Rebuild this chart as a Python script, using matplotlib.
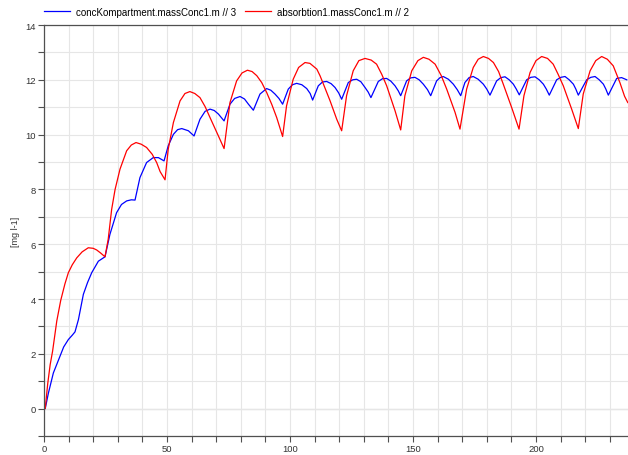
import matplotlib
matplotlib.use("Agg")
import matplotlib.pyplot as plt
from matplotlib.ticker import MultipleLocator
from matplotlib.lines import Line2D

plt.rcParams['font.family'] = ['Liberation Sans', 'DejaVu Sans']

# blue: concKompartment.massConc1.m // 3
t_blue = [0, 0.5, 1.8, 3.8, 6.5, 8, 9.9, 11.5, 12.6, 14, 16, 17.7, 19.4, 22.1, 24.8,
          26.8, 29.5, 31.5, 33.6, 35.5, 37, 39, 41.7, 44.4, 46.5, 48.8,
          50.5, 52.6, 54.3, 56, 58.7, 61, 63.4, 65.5, 67.5, 69.2, 70.9, 73.2,
          75.6, 77.5, 79.7, 81.5, 83.1, 85.1, 87.8, 90.5, 92.2, 93.9, 95.5, 97,
          99.3, 101, 102.7, 104.8, 106.8, 108.2, 109.2, 111.5, 113.2, 114.9, 116.7, 118.3, 119.8, 121,
          123.7, 125.5, 127.1, 128.8, 130.5, 131.8, 132.9, 135.9, 137.6, 139.3, 141, 142.7, 144, 145,
          147.4, 149, 150.8, 152.5, 154.2, 155.9, 157.2, 159.6, 161, 162.3, 164.4, 166.4, 168, 169.4,
          171.1, 172.8, 174.5, 176.5, 178.6, 180, 181.3, 184, 185.7, 187.4, 189.1, 190.8, 192, 193.2,
          196.2, 197.9, 199.6, 201.3, 203, 204.2, 205.4, 208.4, 210.1, 211.8, 213.5, 215.2, 216.2, 217.2,
          220.6, 222.3, 224, 225.7, 227.4, 228.4, 229.4, 232.8, 234.8, 236.9]
c_blue = [0, 0, 0.57, 1.3, 1.91, 2.25, 2.52, 2.68, 2.8, 3.25, 4.17, 4.6, 4.96, 5.38, 5.54,
          6.36, 7.15, 7.45, 7.58, 7.62, 7.61, 8.43, 8.98, 9.16, 9.16, 9.04,
          9.59, 10.01, 10.18, 10.22, 10.14, 9.95, 10.56, 10.85, 10.93, 10.88, 10.75, 10.5,
          11.11, 11.32, 11.39, 11.3, 11.11, 10.89, 11.48, 11.68, 11.62, 11.48, 11.32, 11.11,
          11.66, 11.82, 11.87, 11.82, 11.68, 11.5, 11.26, 11.78, 11.92, 11.94, 11.86, 11.72, 11.52, 11.29,
          11.9, 12.0, 12.02, 11.93, 11.72, 11.55, 11.35, 11.94, 12.04, 12.05, 11.95, 11.78, 11.6, 11.42,
          11.96, 12.07, 12.09, 12.0, 11.84, 11.64, 11.42, 11.96, 12.08, 12.12, 12.02, 11.84, 11.64, 11.42,
          11.9, 12.08, 12.12, 12.02, 11.84, 11.66, 11.44, 11.96, 12.08, 12.11, 12.0, 11.84, 11.66, 11.45,
          12.0, 12.09, 12.11, 12.0, 11.84, 11.66, 11.44, 12.0, 12.09, 12.12, 12.0, 11.84, 11.66, 11.44,
          12.0, 12.09, 12.12, 12.0, 11.84, 11.66, 11.44, 12.05, 12.08, 12.0]

# red: absorbtion1.massConc1.m // 2
t_red = [0, 0.5, 1.5, 2.5, 3.5, 5.2, 6.8, 8.5, 9.9, 11.5, 13.3, 15.5, 18, 20, 21.4, 23, 24.8,
         26.1, 27.5, 28.9, 30.9, 33.6, 35.5, 37.4, 39.5, 41.7, 44, 45.8, 47.2, 49.2,
         50.5, 52.6, 55.3, 57.3, 59.3, 61.3, 63.4, 65.5, 67.5, 70.9, 73.2,
         75.6, 78.3, 80.5, 82.7, 84.6, 86.5, 88.5, 90.5, 92.6, 94.6, 97,
         98.6, 101.3, 103.5, 106.1, 108.1, 110.9, 112.2, 114, 116.3, 119, 121,
         123, 125.7, 128, 130.5, 133, 135.2, 137.3, 139.3, 142.7, 145,
         146.7, 149.5, 152, 154.2, 156.5, 159, 161.5, 163.7, 167.1, 169.1,
         171.8, 174.5, 176.5, 178.6, 180.7, 182.7, 184.8, 186.7, 190.1, 193.1,
         195.1, 197.6, 200, 202.3, 204.7, 207, 209, 211.1, 214.5, 217.2,
         219.2, 222, 224.3, 226.7, 229, 231.4, 234.1, 236, 237.3]
c_red = [0, 0, 0.9, 1.6, 2.1, 3.2, 3.95, 4.55, 4.96, 5.25, 5.5, 5.72, 5.87, 5.85, 5.79, 5.68, 5.54,
         6.18, 7.27, 8.0, 8.74, 9.41, 9.62, 9.71, 9.65, 9.53, 9.28, 8.98, 8.65, 8.35,
         9.47, 10.44, 11.23, 11.5, 11.57, 11.5, 11.35, 11.02, 10.62, 9.95, 9.49,
         11.17, 11.96, 12.25, 12.35, 12.3, 12.15, 11.9, 11.54, 11.1, 10.62, 9.93,
         11.05, 12.02, 12.45, 12.63, 12.6, 12.39, 12.15, 11.75, 11.23, 10.56, 10.14,
         11.42, 12.33, 12.7, 12.78, 12.72, 12.57, 12.2, 11.78, 10.87, 10.17,
         11.42, 12.33, 12.7, 12.82, 12.75, 12.57, 12.15, 11.66, 10.81, 10.2,
         11.66, 12.45, 12.75, 12.85, 12.78, 12.63, 12.3, 11.84, 10.99, 10.2,
         11.42, 12.27, 12.7, 12.85, 12.78, 12.57, 12.2, 11.78, 10.93, 10.22,
         11.48, 12.33, 12.7, 12.85, 12.75, 12.51, 11.9, 11.4, 11.17]

labels = ["concKompartment.massConc1.m // 3", "absorbtion1.massConc1.m // 2"]

W, H = 628, 456
fig = plt.figure(figsize=(W / 100, H / 100), dpi=100)
ax = fig.add_axes([44 / W, 19 / H, (W - 44) / W, (437 - 26) / H])

ax.plot(t_blue, c_blue, color='#0000ff', lw=0.9)
ax.plot(t_red, c_red, color='#ff0000', lw=0.9)

ax.set_xlim(0, 237.4)
ax.set_ylim(-1, 14)
ax.xaxis.set_major_locator(MultipleLocator(50))
ax.xaxis.set_minor_locator(MultipleLocator(10))
ax.yaxis.set_major_locator(MultipleLocator(2))
ax.yaxis.set_minor_locator(MultipleLocator(1))
ax.grid(True, which='both', color='#e6e6e6', lw=0.8)
ax.set_axisbelow(True)
ax.axhline(0, color='#c8c8c8', lw=0.9, zorder=0.5)

for s in ['left', 'bottom', 'top']:
    ax.spines[s].set_color('#505050')
    ax.spines[s].set_linewidth(0.9)
ax.spines['right'].set_visible(False)
ax.tick_params(which='both', direction='out', length=4, width=0.8, color='#505050',
               labelsize=6.8, labelcolor='#333333', pad=2)

ax.set_ylabel("[mg l-1]", fontsize=6.5, color='#333333', labelpad=3.5)

handles = [Line2D([], [], color='#0000ff', lw=0.9), Line2D([], [], color='#ff0000', lw=0.9)]
fig.legend(handles, labels, loc='upper left', bbox_to_anchor=(36 / W, 1.0), ncol=2,
           frameon=False, fontsize=7, handlelength=2.7, handletextpad=0.6,
           columnspacing=0.9, borderaxespad=0.4)

fig.savefig("out.png", dpi=100)
